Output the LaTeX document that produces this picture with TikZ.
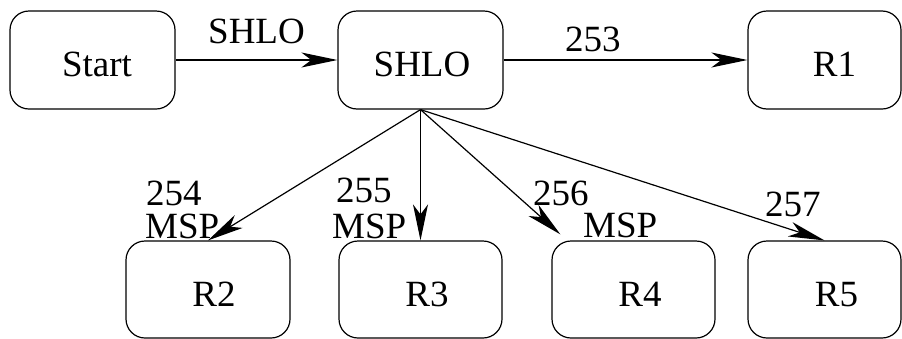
\documentclass[tikz,border=0pt]{standalone}
\usepackage{fontspec}
\setmainfont{Liberation Serif}
\newfontfamily\figfont{Liberation Serif}
\usetikzlibrary{arrows.meta}
\tikzset{
  box/.style={draw, line width=1.2pt, rounded corners=19pt, minimum height=98pt,
    text height=33pt, text depth=0pt, inner sep=0pt, font=\figfont\fontsize{37}{40}\selectfont},
  lab/.style={anchor=base west, inner sep=0pt, text height=26pt, text depth=0pt,
    font=\figfont\fontsize{37}{40}\selectfont},
  arr/.style={line width=1.2pt, -{Stealth[length=36pt, width=15pt, inset=10pt]}}
}
\begin{document}
\begin{tikzpicture}[x=1pt, y=-1pt]
\useasboundingbox (0,0) rectangle (902,338);
\node[box, minimum width=165pt] (start) at (92.5,60) {\hspace*{9pt}Start};
\node[box, minimum width=165pt] (shlo) at (420.5,60) {\hspace*{3pt}SHLO};
\node[box, minimum width=153pt] (r1) at (824.5,60) {\hspace*{20pt}R1};
\node[box, minimum width=164pt, minimum height=97pt] (r2) at (208,289.5) {\hspace*{12pt}R2};
\node[box, minimum width=163pt, minimum height=97pt] (r3) at (420.5,289.5) {\hspace*{13pt}R3};
\node[box, minimum width=163pt, minimum height=97pt] (r4) at (633.5,289.5) {\hspace*{13pt}R4};
\node[box, minimum width=153pt, minimum height=97pt] (r5) at (824.5,289.5) {\hspace*{24pt}R5};

\coordinate (r4tip) at ([xshift=9pt,yshift=6pt]r4.north west);

\draw[arr] (start) -- (shlo);
\draw[arr] (shlo) -- (r1);
\draw[arr] (shlo.south) -- (r2.north);
\draw[arr] (shlo.south) -- (r3.north);
\draw[arr] (shlo.south) -- (r4tip);
\draw[arr] (shlo.south) -- (r5.north);

\node[lab] (l0) at (208,43) {SHLO};
\node[lab] (l1) at (565,51) {253};
\node[lab] (l2a) at (146,205) {254};
\node[lab] (l2b) at (145,238) {MSP};
\node[lab] (l3a) at (336,202) {255};
\node[lab] (l3b) at (332,238) {MSP};
\node[lab] (l4a) at (533,205) {256};
\node[lab] (l4b) at (583,237) {MSP};
\node[lab] (l5) at (765,216) {257};
\end{tikzpicture}
\end{document}
